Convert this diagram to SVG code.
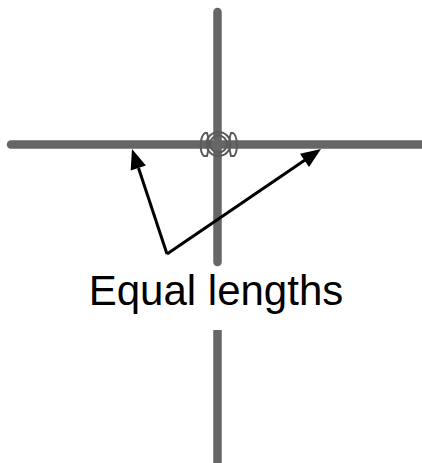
<svg xmlns="http://www.w3.org/2000/svg" width="422" height="463" viewBox="0 0 422 463">
<defs>
<style>
.bar{stroke:#666;stroke-width:8.5;fill:none;stroke-linecap:round}
.ring{stroke:#5a5a5a;stroke-width:2;fill:none}
.arr{stroke:#000;stroke-width:3;fill:none}
.head{fill:#000}
.lbl{font-family:"Liberation Sans",Arial,sans-serif;font-size:42px;fill:#000}
</style>
</defs>
<rect width="422" height="463" fill="#fff"/>
<g id="horizontal-line">
<line class="bar" x1="11" y1="144.5" x2="430" y2="144.5"/>
</g>
<g id="vertical-line">
<line class="bar" x1="217.5" y1="12" x2="217.5" y2="262"/>
<line class="bar" x1="217.5" y1="330" x2="217.5" y2="470" style="stroke-linecap:butt"/>
</g>
<g id="center-mark">
<circle class="ring" cx="218.5" cy="144" r="8.5"/>
<circle class="ring" cx="218.5" cy="144" r="12"/>
<path class="ring" d="M205,133 C200,136 199,152 204,156 L207,156 C209,150 209,138 207,133 Z"/>
<path class="ring" d="M231,133 C229,138 229,150 231,156 L234,156 C238,152 238,136 233,133 Z"/>
</g>
<g id="connectors">
<path d="M167,254 L138.5,168" class="arr"/>
<path d="M132,149 L145.9,165.5 L130.7,170.5 Z" class="head"/>
<path d="M167,254 L305,160" class="arr"/>
<path d="M321,149 L309,166.9 L300,153.7 Z" class="head"/>
</g>
<g id="label">
<text class="lbl" x="216" y="305" text-anchor="middle">Equal lengths</text>
</g>
</svg>
